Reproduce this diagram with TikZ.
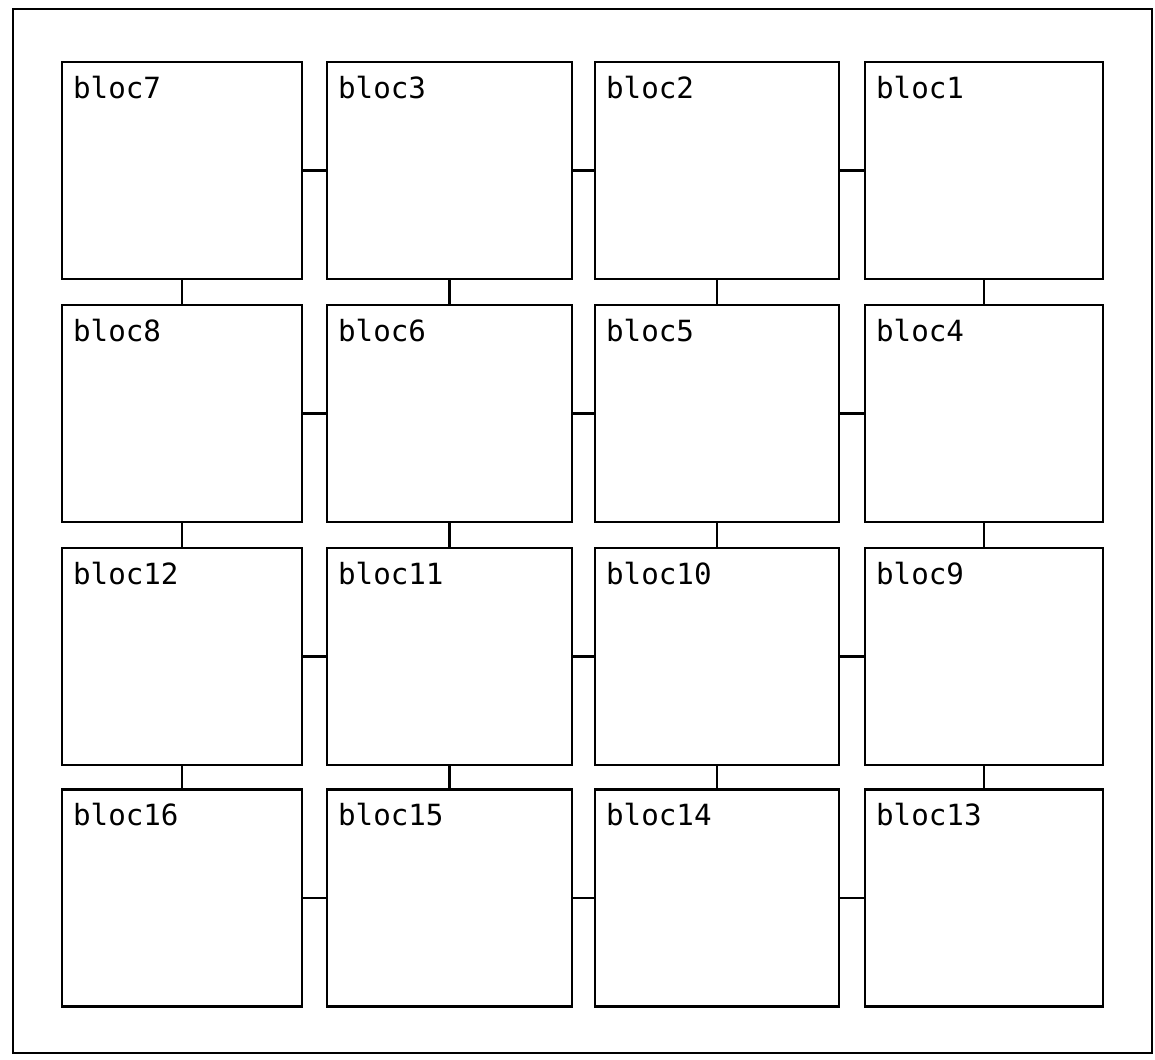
\documentclass[tikz,border=0pt]{standalone}
\usepackage{fontspec}
\newfontfamily\plotfont{DejaVu Sans Mono}
\begin{document}
\begin{tikzpicture}[x=0.5pt,y=-0.5pt,
  frame/.style={draw, line width=1.2pt, inner sep=0, minimum width=569.5pt, minimum height=522pt},
  blk/.style={draw, line width=1.3pt, rectangle, inner sep=0, minimum height=108.5pt},
  cA/.style={blk, minimum width=120pt},
  cB/.style={blk, minimum width=122.5pt},
  cC/.style={blk, minimum width=122pt},
  cD/.style={blk, minimum width=119pt},
  lbl/.style={anchor=north west, inner sep=0, font=\plotfont\fontsize{14.6}{17}\selectfont},
  conn/.style={draw, line width=1.1pt}]
\useasboundingbox (0,0) rectangle (1155,1059);
\node[frame] (outer) at (582.5,531) {};
% row 1
\node[cA] (b7) at (182,170.5) {};
\node[cB] (b3) at (449.5,170.5) {};
\node[cC] (b2) at (717,170.5) {};
\node[cD] (b1) at (984,170.5) {};
% row 2
\node[cA] (b8) at (182,413.5) {};
\node[cB] (b6) at (449.5,413.5) {};
\node[cC] (b5) at (717,413.5) {};
\node[cD] (b4) at (984,413.5) {};
% row 3
\node[cA] (b12) at (182,656.5) {};
\node[cB] (b11) at (449.5,656.5) {};
\node[cC] (b10) at (717,656.5) {};
\node[cD] (b9) at (984,656.5) {};
% row 4
\node[cA] (b16) at (182,898) {};
\node[cB] (b15) at (449.5,898) {};
\node[cC] (b14) at (717,898) {};
\node[cD] (b13) at (984,898) {};
% labels
\node[lbl] (t7) at ([shift={(12,15)}]b7.north west) {bloc7};
\node[lbl] (t3) at ([shift={(12,15)}]b3.north west) {bloc3};
\node[lbl] (t2) at ([shift={(12,15)}]b2.north west) {bloc2};
\node[lbl] (t1) at ([shift={(12,15)}]b1.north west) {bloc1};
\node[lbl] (t8) at ([shift={(12,15)}]b8.north west) {bloc8};
\node[lbl] (t6) at ([shift={(12,15)}]b6.north west) {bloc6};
\node[lbl] (t5) at ([shift={(12,15)}]b5.north west) {bloc5};
\node[lbl] (t4) at ([shift={(12,15)}]b4.north west) {bloc4};
\node[lbl] (t12) at ([shift={(12,15)}]b12.north west) {bloc12};
\node[lbl] (t11) at ([shift={(12,15)}]b11.north west) {bloc11};
\node[lbl] (t10) at ([shift={(12,15)}]b10.north west) {bloc10};
\node[lbl] (t9) at ([shift={(12,15)}]b9.north west) {bloc9};
\node[lbl] (t16) at ([shift={(12,15)}]b16.north west) {bloc16};
\node[lbl] (t15) at ([shift={(12,15)}]b15.north west) {bloc15};
\node[lbl] (t14) at ([shift={(12,15)}]b14.north west) {bloc14};
\node[lbl] (t13) at ([shift={(12,15)}]b13.north west) {bloc13};
% horizontal connectors
\draw[conn] (b7.east) -- (b3.west);
\draw[conn] (b3.east) -- (b2.west);
\draw[conn] (b2.east) -- (b1.west);
\draw[conn] (b8.east) -- (b6.west);
\draw[conn] (b6.east) -- (b5.west);
\draw[conn] (b5.east) -- (b4.west);
\draw[conn] (b12.east) -- (b11.west);
\draw[conn] (b11.east) -- (b10.west);
\draw[conn] (b10.east) -- (b9.west);
\draw[conn] (b16.east) -- (b15.west);
\draw[conn] (b15.east) -- (b14.west);
\draw[conn] (b14.east) -- (b13.west);
% vertical connectors
\draw[conn] (b7.south) -- (b8.north);
\draw[conn] (b3.south) -- (b6.north);
\draw[conn] (b2.south) -- (b5.north);
\draw[conn] (b1.south) -- (b4.north);
\draw[conn] (b8.south) -- (b12.north);
\draw[conn] (b6.south) -- (b11.north);
\draw[conn] (b5.south) -- (b10.north);
\draw[conn] (b4.south) -- (b9.north);
\draw[conn] (b12.south) -- (b16.north);
\draw[conn] (b11.south) -- (b15.north);
\draw[conn] (b10.south) -- (b14.north);
\draw[conn] (b9.south) -- (b13.north);
\end{tikzpicture}
\end{document}
